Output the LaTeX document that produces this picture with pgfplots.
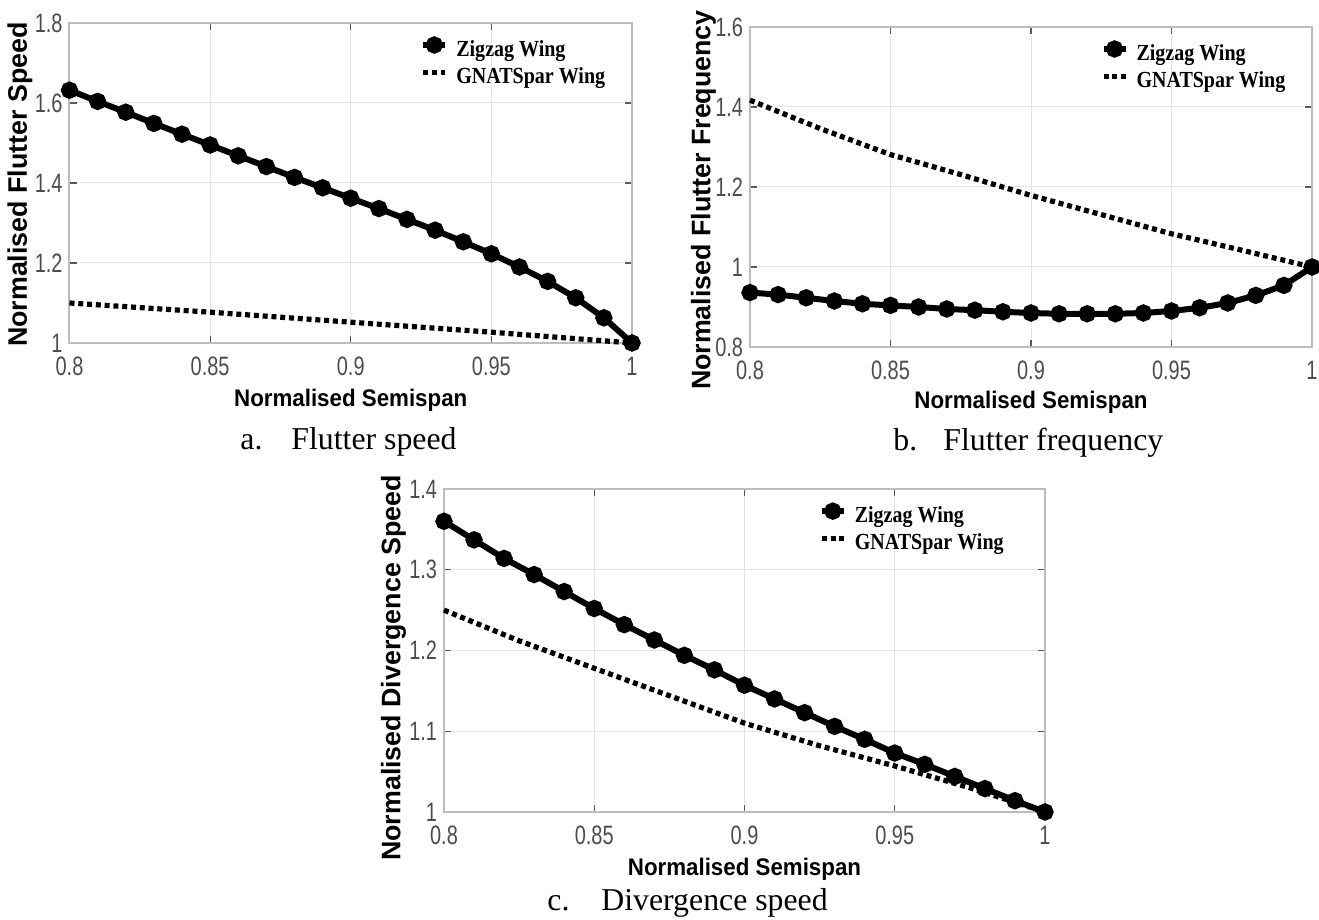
\documentclass[border=0pt]{standalone}
\usepackage{fontspec}
\usepackage{pgfplots}
\pgfplotsset{compat=1.18}
\setmainfont{Liberation Serif}
\newfontfamily\tickfam[FakeStretch=0.75]{Liberation Sans}
\newfontfamily\xlabfam[FakeStretch=0.93]{Liberation Sans}
\newfontfamily\ylabfam{Liberation Sans}
\newfontfamily\legfam[FakeStretch=0.87]{Liberation Serif}
\newcommand\tickfont{\tickfam\fontsize{13.3}{15}\selectfont}
\newcommand\xlabfont{\xlabfam\bfseries\fontsize{12}{14}\selectfont}
\newcommand\ylabfont{\ylabfam\bfseries\fontsize{13.4}{15}\selectfont}
\newcommand\legfont{\legfam\bfseries\fontsize{11.5}{13}\selectfont}
\newcommand\capfont{\rmfamily\fontsize{15.9}{18}\selectfont}
\definecolor{gridc}{gray}{0.89}
\definecolor{axc}{gray}{0.74}
\definecolor{tickc}{gray}{0.35}
\definecolor{tlc}{gray}{0.30}
\pgfplotsset{
  myax/.style={
    scale only axis, anchor=south west, clip=false,
    xmin=0.8, xmax=1,
    xtick={0.8,0.85,0.9,0.95,1}, xticklabels={0.8,0.85,0.9,0.95,1},
    /pgf/number format/assume math mode=true,
    grid=major, grid style={draw=gridc, line width=0.5pt},
    axis line style={draw=axc, line width=1pt},
    tick align=inside, major tick length=3.5pt,
    tick style={draw=tickc, line width=0.6pt},
    ticklabel style={font=\tickfont, text=tlc, inner sep=0pt},
    xticklabel style={anchor=north, yshift=-7pt},
    yticklabel style={anchor=east, xshift=-3.3pt},
    xlabel style={font=\xlabfont, text=black, at={(axis description cs:0.5,0)}, anchor=base, yshift=-32pt},
    ylabel style={font=\ylabfont, text=black, anchor=center},
    legend style={at={(axis description cs:0.623,0.95)}, anchor=north west,
      draw=none, fill=none, inner sep=0pt, font=\legfont, row sep=3.5pt,
      nodes={inner sep=0pt, text height=7.8pt, text depth=2.5pt},
      /tikz/every odd column/.append style={column sep=4pt}},
    legend cell align=left,
    legend image code/.code={\draw[mark repeat=2,mark phase=2,##1] plot coordinates {(0pt,2.9pt) (5.5pt,2.9pt) (11pt,2.9pt)};},
  },
  zz/.style={black, line width=3pt, mark=*, mark size=2.8pt, mark options={solid}},
  gn/.style={black, line width=2.6pt, dash pattern=on 2.5pt off 1.9pt},
}
\begin{document}
\begin{tikzpicture}
% ---------------- a. Flutter speed
\begin{axis}[myax, at={(34.75pt,288.5pt)}, width=281.25pt, height=160pt,
  ymin=1, ymax=1.8, ytick={1,1.2,1.4,1.6,1.8}, yticklabels={1,1.2,1.4,1.6,1.8},
  xlabel={Normalised Semispan}, ylabel={Normalised Flutter Speed},
  ylabel style={at={(axis description cs:-0.088,0.495)}}]
\addplot[zz] coordinates {
(0.80,1.632) (0.81,1.604) (0.82,1.577) (0.83,1.549) (0.84,1.522) (0.85,1.495)
(0.86,1.468) (0.87,1.441) (0.88,1.414) (0.89,1.388) (0.90,1.362) (0.91,1.336)
(0.92,1.309) (0.93,1.282) (0.94,1.253) (0.95,1.223) (0.96,1.190) (0.97,1.154)
(0.98,1.113) (0.99,1.063) (1.00,1.000)};
\addlegendentry{Zigzag Wing}
\addplot[gn] coordinates {
(0.80,1.100) (0.85,1.077) (0.90,1.052) (0.95,1.027) (1.00,1.000)};
\addlegendentry{GNATSpar Wing}
\end{axis}
% ---------------- b. Flutter frequency
\begin{axis}[myax, at={(375pt,286.5pt)}, width=281pt, height=160pt,
  ymin=0.8, ymax=1.6, ytick={0.8,1,1.2,1.4,1.6}, yticklabels={0.8,1,1.2,1.4,1.6},
  xlabel={Normalised Semispan}, ylabel={Normalised Flutter Frequency},
  xlabel style={yshift=1pt},
  ylabel style={at={(axis description cs:-0.083,0.459)}}]
\addplot[zz] coordinates {
(0.80,0.936) (0.81,0.931) (0.82,0.923) (0.83,0.915) (0.84,0.908) (0.85,0.904)
(0.86,0.900) (0.87,0.895) (0.88,0.892) (0.89,0.888) (0.90,0.885) (0.91,0.883)
(0.92,0.883) (0.93,0.883) (0.94,0.885) (0.95,0.890) (0.96,0.898) (0.97,0.910)
(0.98,0.929) (0.99,0.954) (1.00,1.000)};
\addlegendentry{Zigzag Wing}
\addplot[gn] coordinates {
(0.800,1.417) (0.825,1.346) (0.850,1.281) (0.875,1.231) (0.900,1.179)
(0.925,1.131) (0.950,1.083) (0.975,1.042) (1.000,1.000)};
\addlegendentry{GNATSpar Wing}
\end{axis}
% ---------------- c. Divergence speed
\begin{axis}[myax, at={(222pt,54pt)}, width=300.5pt, height=161.5pt,
  ymin=1, ymax=1.4, ytick={1,1.1,1.2,1.3,1.4}, yticklabels={1,1.1,1.2,1.3,1.4},
  xlabel={Normalised Semispan}, ylabel={Normalised Divergence Speed},
  ylabel style={at={(axis description cs:-0.084,0.446)}}]
\addplot[zz] coordinates {
(0.80,1.360) (0.81,1.337) (0.82,1.314) (0.83,1.294) (0.84,1.273) (0.85,1.252)
(0.86,1.232) (0.87,1.213) (0.88,1.194) (0.89,1.176) (0.90,1.157) (0.91,1.140)
(0.92,1.123) (0.93,1.106) (0.94,1.090) (0.95,1.073) (0.96,1.059) (0.97,1.044)
(0.98,1.029) (0.99,1.014) (1.00,1.000)};
\addlegendentry{Zigzag Wing}
\addplot[gn] coordinates {
(0.800,1.250) (0.825,1.212) (0.850,1.178) (0.875,1.144) (0.900,1.110)
(0.925,1.082) (0.950,1.057) (0.975,1.030) (1.000,1.000)};
\addlegendentry{GNATSpar Wing}
\end{axis}
% ---------------- captions
\node[font=\capfont, anchor=base west, inner sep=0pt] at (120pt,235pt) {a.};
\node[font=\capfont, anchor=base west, inner sep=0pt] at (145.5pt,235pt) {Flutter speed};
\node[font=\capfont, anchor=base west, inner sep=0pt] at (446.5pt,234.5pt) {b.};
\node[font=\capfont, anchor=base west, inner sep=0pt] at (471.5pt,234.5pt) {Flutter frequency};
\node[font=\capfont, anchor=base west, inner sep=0pt] at (273.5pt,4.5pt) {c.};
\node[font=\capfont, anchor=base west, inner sep=0pt] at (300.5pt,4.5pt) {Divergence speed};
\pgfresetboundingbox
\path[use as bounding box] (0pt,0pt) rectangle (659.5pt,460pt);
\end{tikzpicture}
\end{document}
